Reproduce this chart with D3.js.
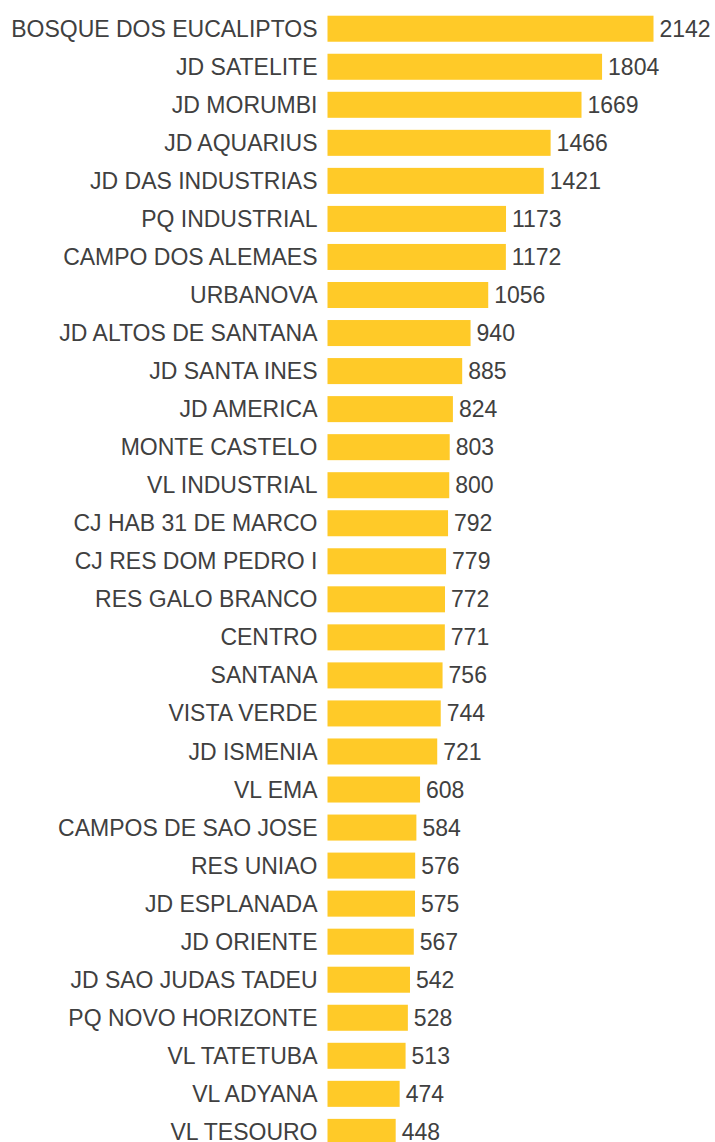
<!DOCTYPE html>
<html>
<head>
<meta charset="utf-8">
<script src="https://cdn.jsdelivr.net/npm/d3@7"></script>
<style>
  html, body { margin: 0; padding: 0; background: #fff; }
  svg { display: block; }
</style>
</head>
<body>
<div id="chart"></div>
<script>
const categories = [
  "BOSQUE DOS EUCALIPTOS", "JD SATELITE", "JD MORUMBI", "JD AQUARIUS", "JD DAS INDUSTRIAS",
  "PQ INDUSTRIAL", "CAMPO DOS ALEMAES", "URBANOVA", "JD ALTOS DE SANTANA", "JD SANTA INES",
  "JD AMERICA", "MONTE CASTELO", "VL INDUSTRIAL", "CJ HAB 31 DE MARCO", "CJ RES DOM PEDRO I",
  "RES GALO BRANCO", "CENTRO", "SANTANA", "VISTA VERDE", "JD ISMENIA",
  "VL EMA", "CAMPOS DE SAO JOSE", "RES UNIAO", "JD ESPLANADA", "JD ORIENTE",
  "JD SAO JUDAS TADEU", "PQ NOVO HORIZONTE", "VL TATETUBA", "VL ADYANA", "VL TESOURO"
];
const values = [
  2142, 1804, 1669, 1466, 1421,
  1173, 1172, 1056, 940, 885,
  824, 803, 800, 792, 779,
  772, 771, 756, 744, 721,
  608, 584, 576, 575, 567,
  542, 528, 513, 474, 448
];

const W = 715, H = 1142;
const barLeft = 327.5;
const data = categories.map((c, i) => ({ name: c, value: values[i] }));

const svg = d3.select("#chart").append("svg")
  .attr("width", W).attr("height", H);

const y = d3.scaleBand()
  .domain(categories)
  .range([9.7, 9.7 + categories.length * 38.04])
  .paddingInner(0.316)
  .paddingOuter(0.158);

const x = d3.scaleLinear()
  .domain([0, 2142])
  .range([0, 326]);

const g = svg.append("g").attr("transform", `translate(${barLeft},0)`);

g.selectAll("rect.bar").data(data).join("rect")
  .attr("class", "bar")
  .attr("x", 0)
  .attr("y", d => y(d.name))
  .attr("width", d => x(d.value))
  .attr("height", y.bandwidth())
  .attr("fill", "#FFCA28");

const font = "'Liberation Sans', Arial, sans-serif";

g.selectAll("text.cat").data(data).join("text")
  .attr("class", "cat")
  .attr("x", -10)
  .attr("y", d => y(d.name) + y.bandwidth() / 2)
  .attr("dy", "0.35em")
  .attr("text-anchor", "end")
  .attr("font-family", font)
  .attr("font-size", 23)
  .attr("fill", "#404040")
  .text(d => d.name);

g.selectAll("text.val").data(data).join("text")
  .attr("class", "val")
  .attr("x", d => x(d.value) + 6)
  .attr("y", d => y(d.name) + y.bandwidth() / 2)
  .attr("dy", "0.35em")
  .attr("text-anchor", "start")
  .attr("font-family", font)
  .attr("font-size", 23)
  .attr("fill", "#404040")
  .text(d => d.value);
</script>
</body>
</html>
